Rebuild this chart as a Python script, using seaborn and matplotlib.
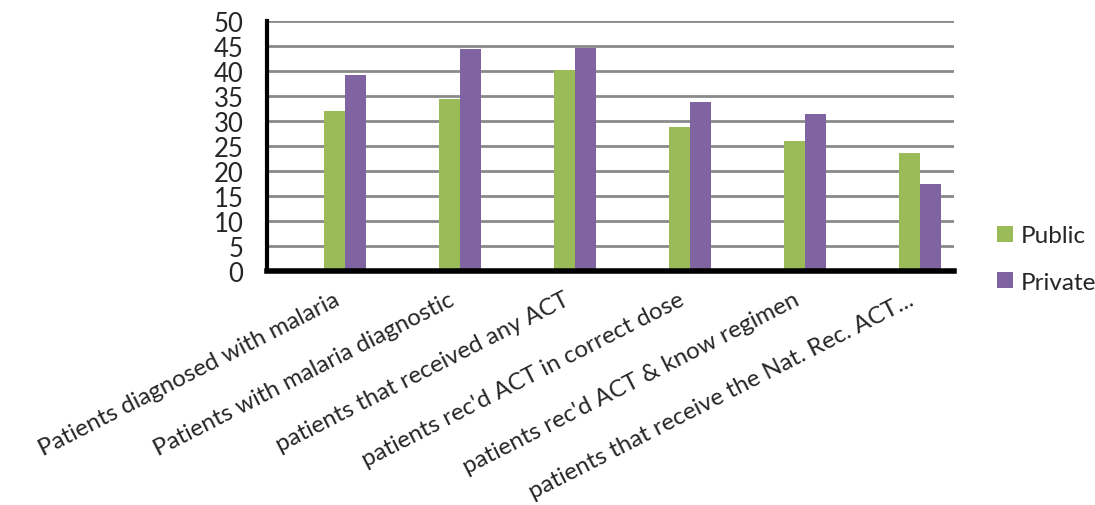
import matplotlib
matplotlib.use("Agg")
import matplotlib.pyplot as plt
import matplotlib.transforms as mtransforms
import seaborn as sns
import pandas as pd
from matplotlib.patches import Patch

categories = [
    "Patients diagnosed with malaria",
    "Patients with malaria diagnostic",
    "patients that received any ACT",
    "patients rec'd ACT in correct dose",
    "patients rec'd ACT & know regimen",
    "patients that receive the Nat. Rec. ACT...",
]
public = [32.1, 34.5, 40.2, 28.8, 26.1, 23.6]
private = [39.2, 44.4, 44.6, 33.8, 31.4, 17.5]
series = ["Public", "Private"]
colors = ["#9BBB59", "#8064A2"]
yticks = list(range(0, 51, 5))

df = pd.DataFrame({
    "category": categories * 2,
    "value": public + private,
    "sector": ["Public"] * len(categories) + ["Private"] * len(categories),
})

sns.set_theme(style="white")
plt.rcParams["font.family"] = ["Lato", "DejaVu Sans"]

fig = plt.figure(figsize=(10.95, 5.06), dpi=100)
ax = fig.add_axes([267 / 1095, 1 - 272 / 506, (954 - 267) / 1095, 250 / 506])

sns.barplot(data=df, x="category", y="value", hue="sector", order=categories,
            hue_order=series, palette=colors, width=0.365, ax=ax,
            saturation=1, legend=False, edgecolor="none", linewidth=0)

ax.set_xlim(-0.678, 5.296)
ax.set_ylim(0, 50)
ax.set_yticks(yticks)
ax.set_yticklabels([str(t) for t in yticks], fontsize=18.5)
ax.yaxis.grid(True, color="#8a8a8a", linewidth=2)
ax.set_axisbelow(True)
ax.tick_params(axis="both", length=0)
ax.tick_params(axis="y", pad=17)
ax.set_xlabel("")
ax.set_ylabel("")

ax.set_xticks(range(len(categories)))
ax.set_xticklabels(categories, rotation=27, ha="right", rotation_mode="anchor",
                   fontsize=17.3)
ax.tick_params(axis="x", pad=12)
shift = mtransforms.ScaledTranslation(-12 / 100, -1 / 100, fig.dpi_scale_trans)
for lbl in ax.get_xticklabels():
    lbl.set_transform(lbl.get_transform() + shift)

for side in ["top", "right"]:
    ax.spines[side].set_visible(False)
ax.spines["left"].set_color("black")
ax.spines["left"].set_linewidth(3)
ax.spines["bottom"].set_color("black")
ax.spines["bottom"].set_linewidth(4)

handles = [Patch(facecolor=c, edgecolor="none") for c in colors]
fig.legend(handles, series, loc="center left", bbox_to_anchor=(997 / 1095, 1 - 260 / 506),
           frameon=False, fontsize=17.5, handlelength=0.66, handleheight=0.66,
           handletextpad=0.33, labelspacing=1.05, borderpad=0, borderaxespad=0)

fig.savefig("out.png", dpi=100)
